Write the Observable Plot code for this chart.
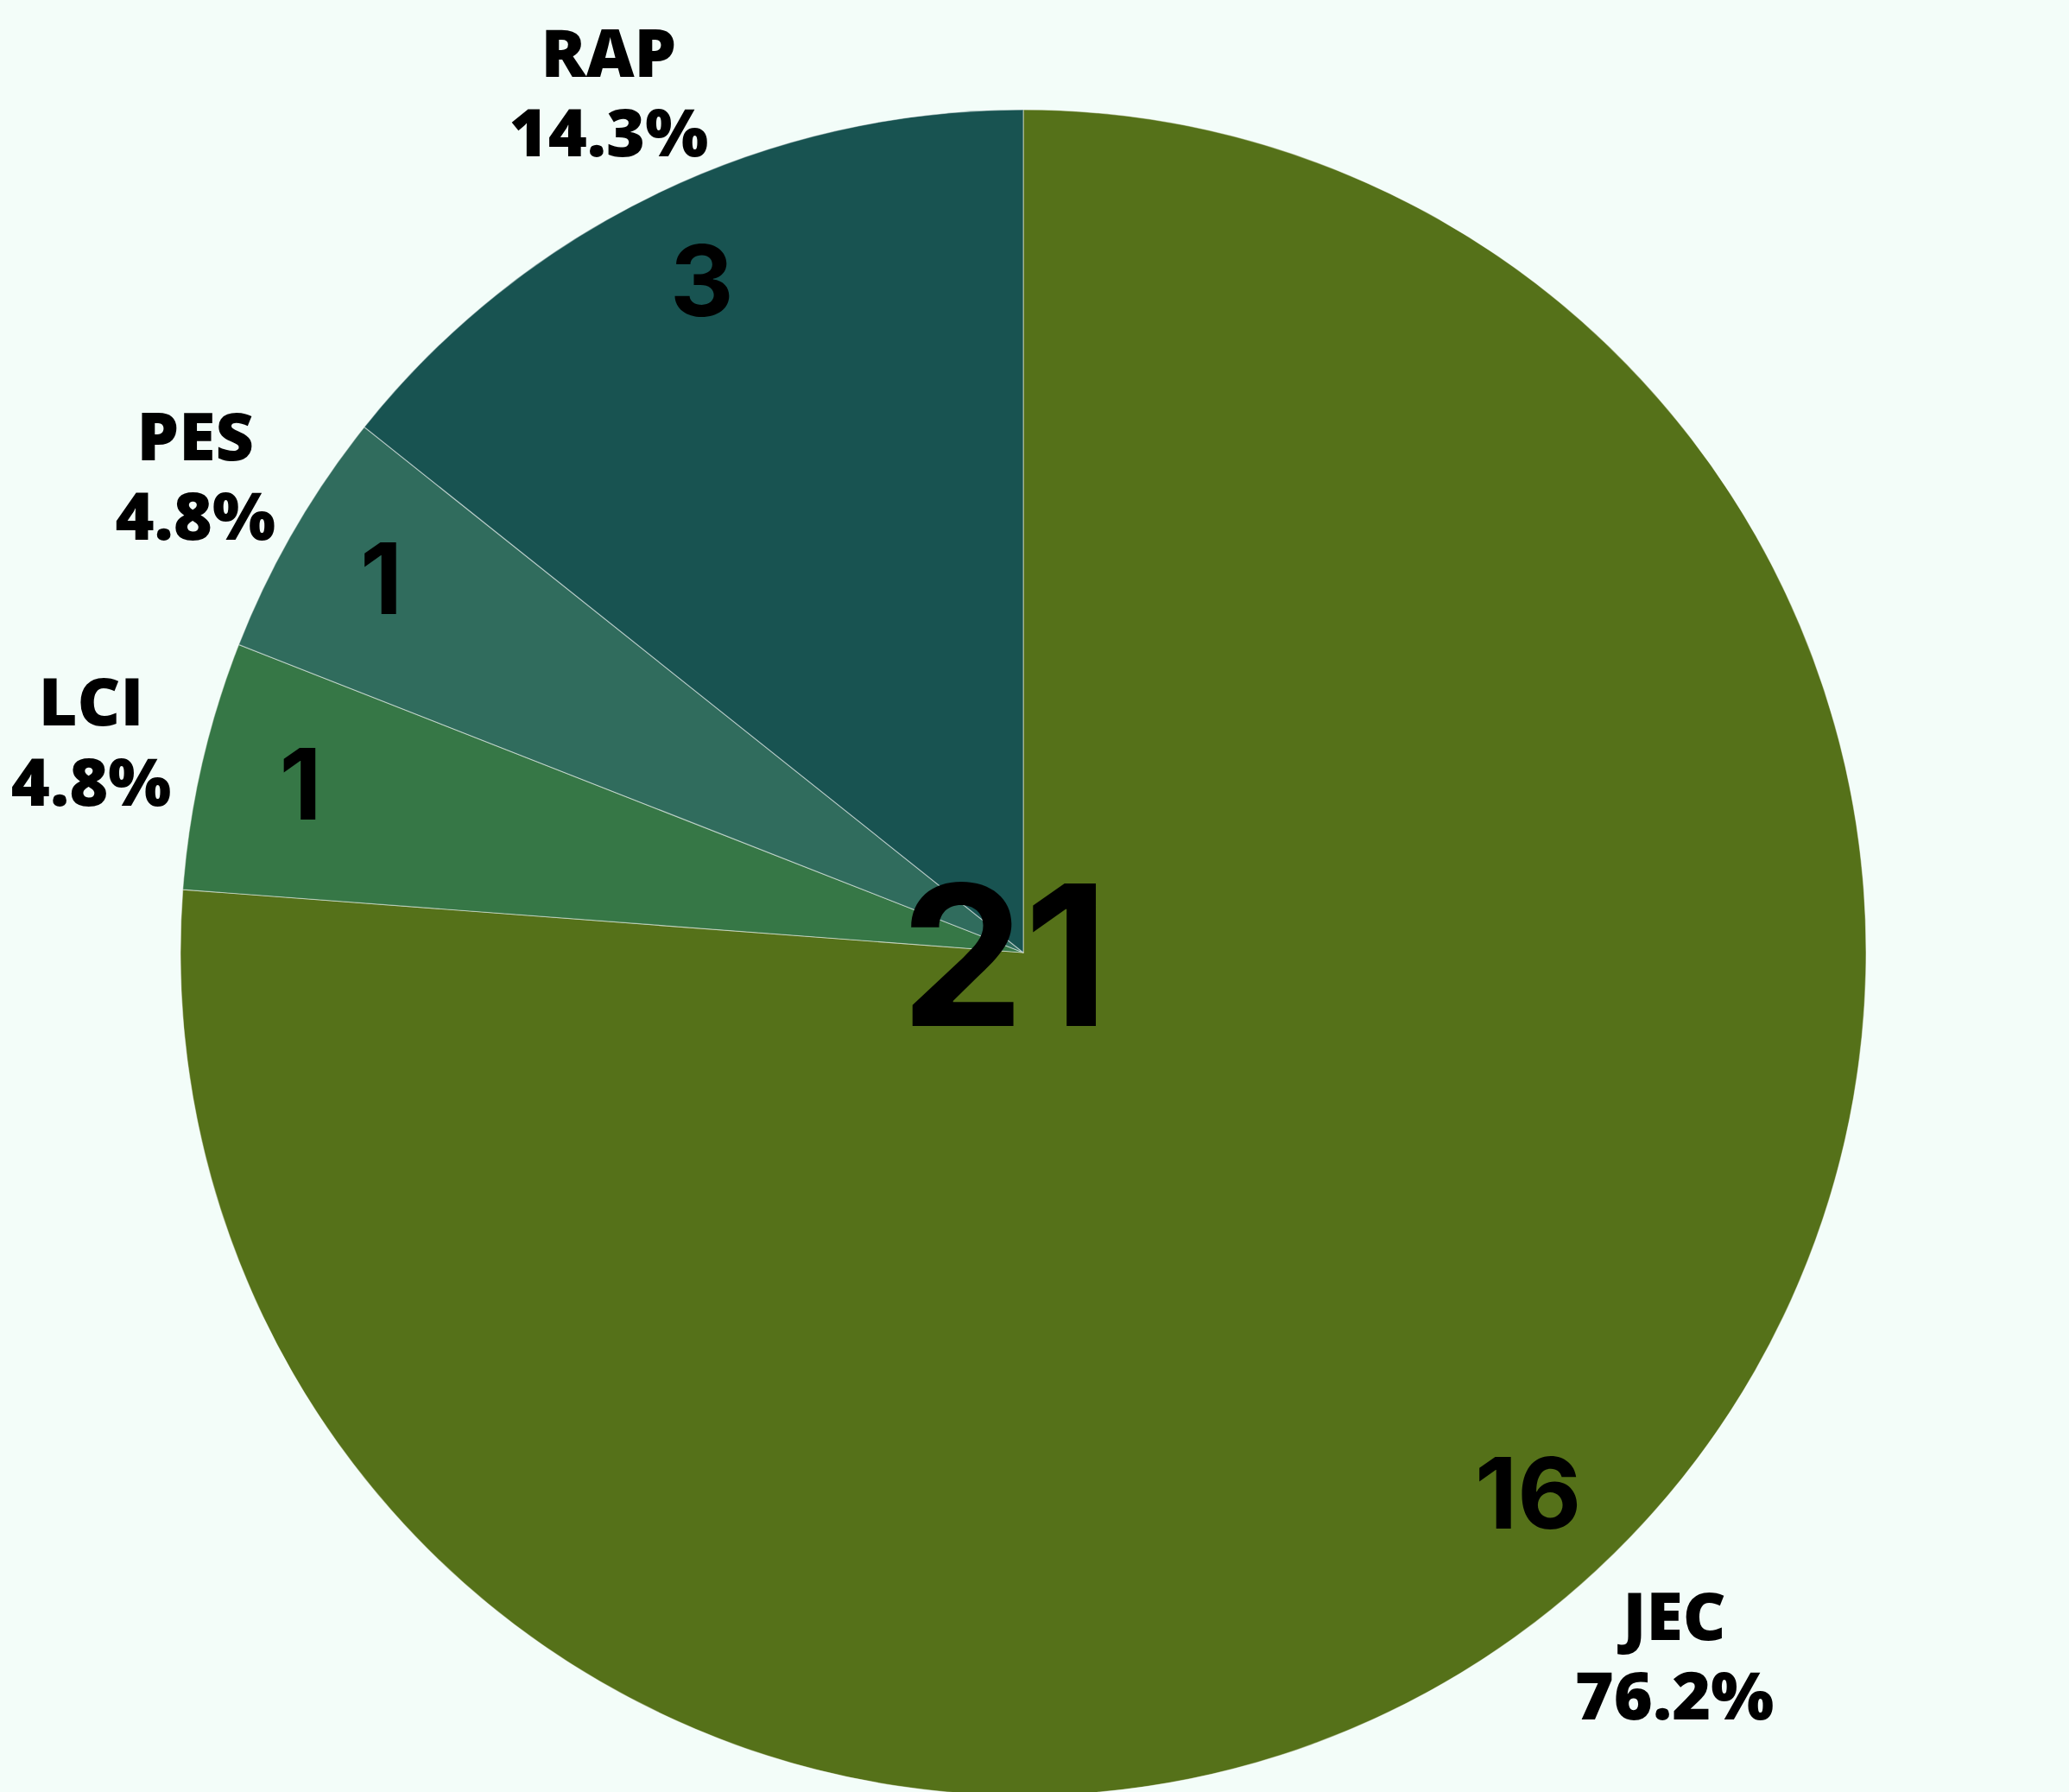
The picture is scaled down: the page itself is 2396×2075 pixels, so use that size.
<!DOCTYPE html>
<html><head><meta charset="utf-8">
<script src="https://cdn.jsdelivr.net/npm/d3@7"></script>
<script src="https://cdn.jsdelivr.net/npm/@observablehq/plot@0.6"></script>
<style>
html,body{margin:0;padding:0;background:#f3fdf9;overflow:hidden;}
#chart svg{display:block;}
</style></head><body><div id="chart"></div>
<script>
// ---- data ----
const categories = ["JEC", "LCI", "PES", "RAP"];
const counts = [16, 1, 1, 3];
const sliceColors = ["#557119", "#367746", "#306c5d", "#185351"];

// ---- layout ----
const W = 2396, H = 2075;
const CX = 1185, CY = 1103, R = 976;

const total = d3.sum(counts);
const rows = categories.map((c, i) => ({name: c, count: counts[i], color: sliceColors[i]}));
const arcs = d3.pie().sort(null).value(d => d.count)(rows).map(a => ({
  ...a.data,
  start: a.startAngle,
  end: a.endAngle,
  mid: (a.startAngle + a.endAngle) / 2,
  pct: (a.data.count / total * 100).toFixed(1)
}));

const slices = (index, {x, y}) => {
  const cx = x(0), cy = y(0), r = Math.abs(x(1) - x(0));
  const arcGen = d3.arc().innerRadius(0).outerRadius(r);
  const g = d3.create("svg:g").attr("transform", `translate(${cx},${cy})`);
  g.selectAll("path").data(arcs).join("path")
    .attr("d", d => arcGen({startAngle: d.start, endAngle: d.end}))
    .attr("fill", d => d.color)
    .attr("stroke", "#ffffff")
    .attr("stroke-opacity", 0.45)
    .attr("stroke-width", 1.2)
    .attr("stroke-linejoin", "round");
  return g.node();
};

const chart = Plot.plot({
  width: W,
  height: H,
  margin: 0,
  style: {background: "transparent", overflow: "visible"},
  x: {domain: [-CX / R, (W - CX) / R], range: [0, W], axis: null},
  y: {domain: [-CY / R, (H - CY) / R], range: [0, H], axis: null},
  marks: [
    slices,
    Plot.text(arcs, {
      x: d => Math.sin(d.mid) * 0.88,
      y: d => -Math.cos(d.mid) * 0.88,
      text: d => String(d.count),
      fontSize: 114,
      fontWeight: 700,
      fontFamily: "Inter, Roboto, sans-serif",
      fill: "#000000"
    }),
    Plot.text(arcs, {
      x: d => Math.sin(d.mid) * 1.135,
      y: d => -Math.cos(d.mid) * 1.135,
      text: d => `${d.name}\n${d.pct}%`,
      fontSize: 77,
      fontWeight: 800,
      lineHeight: 1.2,
      fontFamily: "'Open Sans', 'DejaVu Sans', sans-serif",
      fill: "#000000"
    }),
    Plot.text([total], {
      x: () => 0,
      y: () => 0,
      text: d => String(d),
      fontSize: 227,
      fontWeight: 700,
      dx: -22,
      dy: 12,
      fontFamily: "Inter, Roboto, sans-serif",
      fill: "#000000"
    })
  ]
});
document.getElementById("chart").appendChild(chart);
</script>
</body></html>
